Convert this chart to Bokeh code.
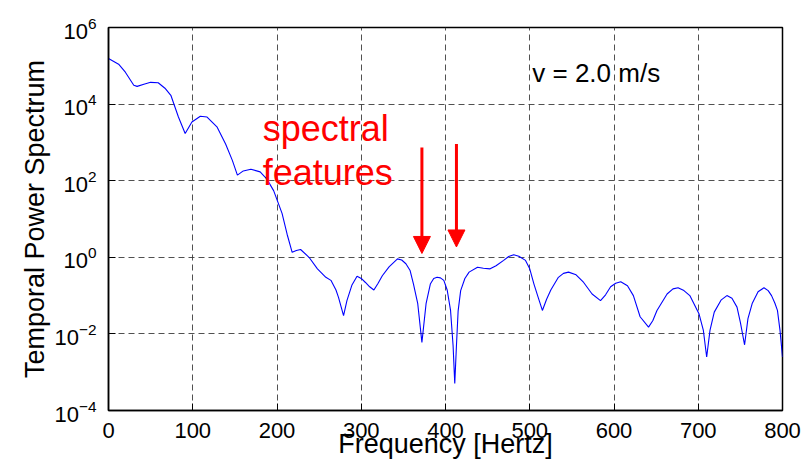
from bokeh.plotting import figure
from bokeh.models import Label, Arrow, NormalHead, FixedTicker, ColumnDataSource
from bokeh.embed import file_html
from bokeh.resources import INLINE

# Frequency [Hz] and temporal power spectrum values
freq = [0, 12, 20, 30, 34, 42, 50, 59, 67, 74, 83, 91, 99, 109, 117, 129, 139, 147, 153,
        160, 169, 180, 188, 196, 206, 212, 218, 223, 228, 238, 248, 258, 264, 270, 273,
        279, 283, 289, 295, 300, 305, 310, 315, 320, 325, 333, 343, 348, 353, 358, 362,
        367, 372, 377, 382, 386, 390, 394, 398, 402, 406, 409, 411, 413, 415, 418, 423,
        428, 438, 445, 453, 460, 469, 475, 481, 487, 495, 500, 505, 510, 515, 520, 525,
        534, 540, 546, 555, 564, 574, 584, 590, 596, 602, 608, 616, 623, 631, 641, 646,
        651, 663, 670, 676, 683, 690, 701, 706, 710, 714, 719, 727, 734, 740, 746, 750,
        755, 759, 764, 771, 778, 783, 787, 791, 794, 797, 800]
power = [1.55e5, 1.1e5, 6.8e4, 3.1e4, 2.9e4, 3.3e4, 3.7e4, 3.6e4, 2.6e4, 1.7e4, 4.6e3,
         1.7e3, 3.4e3, 4.8e3, 4.6e3, 2.5e3, 910, 340, 140,
         180, 200, 170, 110, 55, 14, 4.0, 1.35, 1.5, 1.6, 1.0, 0.5, 0.3, 0.25, 0.14, 0.09,
         0.03, 0.074, 0.19, 0.32, 0.28, 0.22, 0.17, 0.14, 0.21, 0.33, 0.56, 0.91, 0.85, 0.68, 0.45, 0.2,
         0.063, 0.006, 0.063, 0.2, 0.28, 0.3, 0.29, 0.25, 0.14, 0.041, 0.005, 5.1e-4, 0.005, 0.04, 0.135, 0.28,
         0.41, 0.55, 0.52, 0.5, 0.6, 0.83, 1.05, 1.17, 1.07, 0.83, 0.5, 0.2, 0.09, 0.041, 0.08, 0.14,
         0.3, 0.38, 0.41, 0.35, 0.22, 0.11, 0.074, 0.105, 0.17, 0.21, 0.23, 0.18, 0.1, 0.028, 0.015, 0.022,
         0.041, 0.11, 0.15, 0.16, 0.135, 0.1, 0.033, 0.0126, 0.0025, 0.0126, 0.037, 0.076, 0.1, 0.085, 0.05, 0.02,
         0.0052, 0.025, 0.062, 0.126, 0.16, 0.135, 0.1, 0.063, 0.041, 0.0126, 0.0025]

xticks = [0, 100, 200, 300, 400, 500, 600, 700, 800]
yticks = [1e-4, 1e-2, 1e0, 1e2, 1e4, 1e6]

FONT = "Liberation Sans"

p = figure(frame_width=674, frame_height=383, y_axis_type="log",
           x_range=(0, 800), y_range=(1e-4, 1e6),
           output_backend="svg", toolbar_location=None,
           min_border_left=108, min_border_top=27, min_border_right=21, min_border_bottom=50,
           background_fill_color="white", border_fill_color="white")

src = ColumnDataSource(dict(f=freq, p=power))
p.line("f", "p", source=src, line_color="#0000ff", line_width=1.1)

p.outline_line_color = "black"
p.outline_line_width = 1.5
p.outline_line_alpha = 1.0

p.xaxis.ticker = FixedTicker(ticks=xticks, minor_ticks=[])
p.yaxis.ticker = FixedTicker(ticks=yticks, minor_ticks=[])

for ax in (p.xaxis, p.yaxis):
    ax.major_tick_in = 7
    ax.major_tick_out = 0
    ax.minor_tick_in = 0
    ax.minor_tick_out = 0
    ax.major_tick_line_color = "black"
    ax.axis_line_color = "black"
    ax.axis_line_width = 1.5
    ax.major_label_text_font = FONT
    ax.major_label_text_font_size = "22px"
    ax.major_label_text_color = "black"
    ax.axis_label_text_font = FONT
    ax.axis_label_text_font_size = "27px"
    ax.axis_label_text_font_style = "normal"
    ax.axis_label_text_color = "black"

p.xaxis.axis_label = "Frequency [Hertz]"
p.yaxis.axis_label = "Temporal Power Spectrum"
p.xaxis.major_label_standoff = 12
p.xaxis.axis_label_standoff = -12
p.yaxis.major_label_text_align = "left"
p.yaxis.major_label_standoff = 12
p.yaxis.axis_label_standoff = 1

for g in (p.xgrid, p.ygrid):
    g.grid_line_color = "#333333"
    g.grid_line_dash = "6 4"
    g.grid_line_width = 1
    g.grid_line_alpha = 0.85

p.add_layout(Label(x=503, y=6.3e4, text="v = 2.0 m/s", text_font=FONT,
                   text_font_size="26px", text_color="black", text_baseline="alphabetic"))
p.add_layout(Label(x=183, y=2300, text="spectral", text_font=FONT,
                   text_font_size="36px", text_color="#ff0000", text_baseline="alphabetic"))
p.add_layout(Label(x=183, y=160, text="features", text_font=FONT,
                   text_font_size="36px", text_color="#ff0000", text_baseline="alphabetic"))

for xs, ys, ye in ((372, 740, 1.26), (413, 910, 1.86)):
    p.add_layout(Arrow(end=NormalHead(size=17, fill_color="#ff0000", line_color="#ff0000"),
                       x_start=xs, y_start=ys, x_end=xs, y_end=ye,
                       line_color="#ff0000", line_width=3))

open("out.html", "w").write(file_html(p, INLINE))
